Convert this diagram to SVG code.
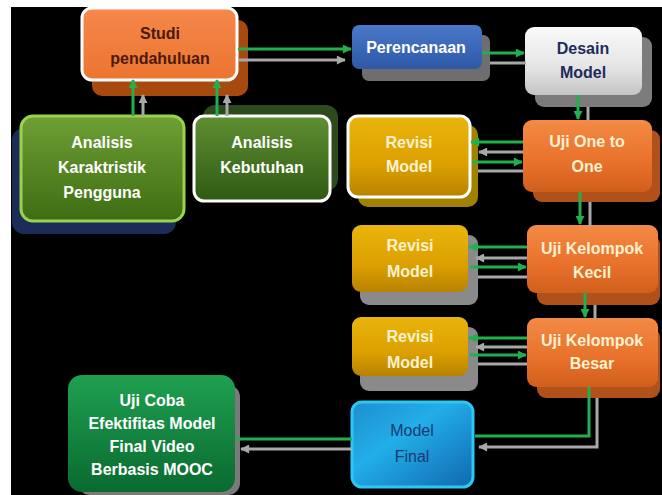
<svg xmlns="http://www.w3.org/2000/svg" width="662" height="495" viewBox="0 0 662 495">
<defs>
<linearGradient id="gOrange" x1="0" y1="0" x2="0" y2="1"><stop offset="0" stop-color="#f38a45"/><stop offset="0.6" stop-color="#e8702a"/><stop offset="1" stop-color="#d05f1c"/></linearGradient>
<linearGradient id="gStudi" x1="0" y1="0" x2="0" y2="1"><stop offset="0" stop-color="#f5884a"/><stop offset="1" stop-color="#ec7430"/></linearGradient>
<linearGradient id="gGreen1" x1="0" y1="0" x2="0" y2="1"><stop offset="0" stop-color="#6f9f35"/><stop offset="1" stop-color="#3d6d12"/></linearGradient>
<linearGradient id="gGreen2" x1="0" y1="0" x2="0" y2="1"><stop offset="0" stop-color="#5f8f32"/><stop offset="1" stop-color="#2e5a12"/></linearGradient>
<linearGradient id="gGold" x1="0" y1="0" x2="0" y2="1"><stop offset="0" stop-color="#e9b40c"/><stop offset="0.6" stop-color="#dca000"/><stop offset="1" stop-color="#b88200"/></linearGradient>
<linearGradient id="gBlue" x1="0" y1="0" x2="0" y2="1"><stop offset="0" stop-color="#4a78c8"/><stop offset="1" stop-color="#2e58a8"/></linearGradient>
<linearGradient id="gWhite" x1="0" y1="0" x2="0" y2="1"><stop offset="0" stop-color="#fafafa"/><stop offset="0.6" stop-color="#e4e4e4"/><stop offset="1" stop-color="#c4c4c4"/></linearGradient>
<linearGradient id="gCyan" x1="0" y1="0" x2="1" y2="1"><stop offset="0" stop-color="#1e8ed0"/><stop offset="0.4" stop-color="#22aee8"/><stop offset="1" stop-color="#1068b0"/></linearGradient>
<linearGradient id="gDkGreen" x1="0" y1="0" x2="0" y2="1"><stop offset="0" stop-color="#1fa050"/><stop offset="1" stop-color="#0a6a30"/></linearGradient>
<marker id="mG" viewBox="0 0 10 10" refX="9" refY="5" markerWidth="10" markerHeight="9" markerUnits="userSpaceOnUse" orient="auto"><path d="M0,0 L10,5 L0,10 z" fill="#22b04e"/></marker>
<marker id="mY" viewBox="0 0 10 10" refX="9" refY="5" markerWidth="10" markerHeight="9" markerUnits="userSpaceOnUse" orient="auto"><path d="M0,0 L10,5 L0,10 z" fill="#a8a8a8"/></marker>
</defs>
<style>
.t{font-family:"Liberation Sans",Arial,sans-serif;font-weight:bold;font-size:16px;text-anchor:middle}
.w{fill:#ffffff}
.cr{fill:#fff2d0}
.g{fill:none;stroke:#22b04e;stroke-width:3}
.y{fill:none;stroke:#a8a8a8;stroke-width:3}
</style>
<rect x="0" y="0" width="662" height="495" fill="#ffffff"/>
<rect x="11" y="7" width="651" height="488" fill="#000000"/>

<g id="studi">
<rect x="92" y="20" width="156" height="76" rx="10" fill="#a84a10"/>
<rect x="82" y="8" width="155" height="72" rx="10" fill="url(#gStudi)" stroke="#ffffff" stroke-width="3"/>
<text class="t" x="160" y="39" fill="#4a1a0a">Studi</text>
<text class="t" x="160" y="64" fill="#4a1a0a">pendahuluan</text>
</g>

<g id="analisis-karaktristik">
<rect x="12" y="128" width="164" height="106" rx="12" fill="#1c2c58"/>
<rect x="21" y="116" width="163" height="105" rx="12" fill="url(#gGreen1)" stroke="#9ad24e" stroke-width="3"/>
<text class="t w" x="102" y="148">Analisis</text>
<text class="t w" x="102" y="173">Karaktristik</text>
<text class="t w" x="102" y="198">Pengguna</text>
</g>

<g id="analisis-kebutuhan">
<rect x="203" y="105" width="135" height="86" rx="12" fill="#2c4a1c"/>
<rect x="194" y="116" width="136" height="85" rx="10" fill="url(#gGreen2)" stroke="#ffffff" stroke-width="3"/>
<text class="t w" x="262" y="148">Analisis</text>
<text class="t w" x="262" y="173">Kebutuhan</text>
</g>

<g id="perencanaan">
<rect x="362" y="35" width="128" height="46" rx="7" fill="#6e6e6e"/>
<rect x="352" y="25" width="130" height="44" rx="7" fill="url(#gBlue)"/>
<text class="t w" x="416" y="53">Perencanaan</text>
</g>

<g id="desain">
<rect x="535" y="37" width="117" height="70" rx="9" fill="#7c7c7c"/>
<rect x="525" y="27" width="117" height="68" rx="9" fill="url(#gWhite)"/>
<text class="t" x="583" y="54" fill="#1c2c5c">Desain</text>
<text class="t" x="583" y="78" fill="#1c2c5c">Model</text>
</g>

<g id="uji-one">
<rect x="533" y="130" width="127" height="72" rx="9" fill="#b0501a"/>
<rect x="523" y="120" width="129" height="72" rx="9" fill="url(#gOrange)"/>
<text class="t cr" x="587" y="147">Uji One to</text>
<text class="t cr" x="587" y="172">One</text>
</g>

<g id="revisi-1">
<rect x="358" y="125" width="120" height="82" rx="10" fill="#a08200"/>
<rect x="348" y="116" width="122" height="81" rx="10" fill="url(#gGold)" stroke="#ffffff" stroke-width="3"/>
<text class="t cr" x="409" y="148">Revisi</text>
<text class="t cr" x="409" y="172">Model</text>
</g>

<g id="uji-kecil">
<rect x="537" y="235" width="123" height="70" rx="9" fill="#b0501a"/>
<rect x="527" y="225" width="131" height="68" rx="9" fill="url(#gOrange)"/>
<text class="t cr" x="592" y="254">Uji Kelompok</text>
<text class="t cr" x="592" y="278">Kecil</text>
</g>

<g id="revisi-2">
<rect x="360" y="235" width="118" height="70" rx="9" fill="#8a8a8a"/>
<rect x="352" y="225" width="116" height="67" rx="9" fill="url(#gGold)"/>
<text class="t cr" x="410" y="251">Revisi</text>
<text class="t cr" x="410" y="277">Model</text>
</g>

<g id="uji-besar">
<rect x="537" y="328" width="123" height="70" rx="9" fill="#b0501a"/>
<rect x="527" y="318" width="131" height="69" rx="9" fill="url(#gOrange)"/>
<text class="t cr" x="592" y="346">Uji Kelompok</text>
<text class="t cr" x="592" y="369">Besar</text>
</g>

<g id="revisi-3">
<rect x="360" y="327" width="118" height="64" rx="9" fill="#8a8a8a"/>
<rect x="352" y="317" width="116" height="59" rx="9" fill="url(#gGold)"/>
<text class="t cr" x="410" y="342">Revisi</text>
<text class="t cr" x="410" y="368">Model</text>
</g>

<g id="model-final">
<rect x="352" y="402" width="121" height="85" rx="10" fill="url(#gCyan)" stroke="#2cc8f4" stroke-width="3"/>
<text x="412" y="436" font-family="Liberation Sans, Arial, sans-serif" font-size="16" text-anchor="middle" fill="#163a70">Model</text>
<text x="412" y="462" font-family="Liberation Sans, Arial, sans-serif" font-size="16" text-anchor="middle" fill="#163a70">Final</text>
</g>

<g id="uji-coba">
<rect x="78" y="385" width="162" height="110" rx="12" fill="#7a7a7a"/>
<rect x="68" y="375" width="167" height="117" rx="14" fill="url(#gDkGreen)"/>
<text class="t w" x="152" y="406">Uji Coba</text>
<text class="t w" x="152" y="429">Efektifitas Model</text>
<text class="t w" x="152" y="452">Final Video</text>
<text class="t w" x="152" y="475">Berbasis MOOC</text>
</g>

<g id="connectors">
<line class="g" x1="133" y1="116" x2="133" y2="80" marker-end="url(#mG)"/>
<line class="y" x1="143" y1="116" x2="143" y2="95" marker-end="url(#mY)"/>
<line class="g" x1="217" y1="116" x2="217" y2="80" marker-end="url(#mG)"/>
<line class="y" x1="227" y1="116" x2="227" y2="95" marker-end="url(#mY)"/>

<line class="g" x1="238" y1="49" x2="351" y2="49" marker-end="url(#mG)"/>
<line class="y" x1="238" y1="60" x2="345" y2="60" marker-end="url(#mY)"/>

<line class="g" x1="482" y1="53" x2="524" y2="53" marker-end="url(#mG)"/>
<line class="y" x1="490" y1="63" x2="526" y2="63"/>

<line class="g" x1="578" y1="95" x2="578" y2="119" marker-end="url(#mG)"/>
<line class="y" x1="588" y1="107" x2="588" y2="121"/>

<line class="g" x1="523" y1="142" x2="471" y2="142" marker-end="url(#mG)"/>
<line class="y" x1="523" y1="152" x2="479" y2="152" marker-end="url(#mY)"/>
<line class="g" x1="472" y1="162" x2="522" y2="162" marker-end="url(#mG)"/>
<line class="y" x1="478" y1="171" x2="523" y2="171"/>

<line class="g" x1="580" y1="192" x2="580" y2="224" marker-end="url(#mG)"/>
<line class="y" x1="590" y1="202" x2="590" y2="226"/>

<line class="g" x1="527" y1="247" x2="469" y2="247" marker-end="url(#mG)"/>
<line class="y" x1="527" y1="258" x2="476" y2="258" marker-end="url(#mY)"/>
<line class="g" x1="470" y1="267" x2="526" y2="267" marker-end="url(#mG)"/>
<line class="y" x1="478" y1="277" x2="527" y2="277"/>

<line class="g" x1="585" y1="293" x2="585" y2="317" marker-end="url(#mG)"/>
<line class="y" x1="595" y1="305" x2="595" y2="319"/>

<line class="g" x1="527" y1="338" x2="469" y2="338" marker-end="url(#mG)"/>
<line class="y" x1="527" y1="347" x2="476" y2="347" marker-end="url(#mY)"/>
<line class="g" x1="470" y1="355" x2="526" y2="355" marker-end="url(#mG)"/>
<line class="y" x1="478" y1="364" x2="527" y2="364"/>

<polyline class="g" points="589,387 589,436 475,436"/>
<polyline class="y" points="597,398 597,447 479,447" marker-end="url(#mY)"/>

<line class="g" x1="352" y1="439" x2="236" y2="439"/>
<line class="y" x1="352" y1="449" x2="241" y2="449" marker-end="url(#mY)"/>
</g>
</svg>
